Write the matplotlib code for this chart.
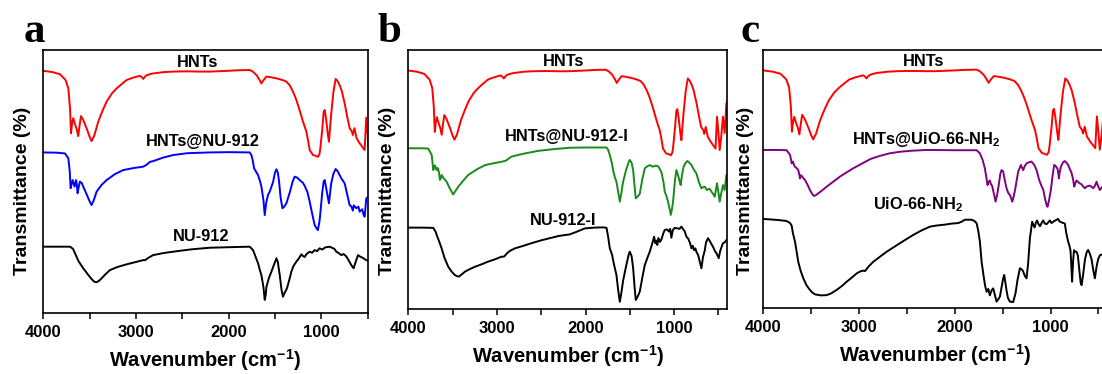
import matplotlib
matplotlib.use("Agg")
import matplotlib.pyplot as plt
from matplotlib.ticker import FixedLocator, NullLocator

plt.rcParams['font.family'] = ['Liberation Sans', 'DejaVu Sans']
plt.rcParams['mathtext.fontset'] = 'custom'
plt.rcParams['mathtext.rm'] = 'Liberation Sans'
plt.rcParams['mathtext.bf'] = 'Liberation Sans:bold'

# ---------------- data (wavenumber cm-1, relative transmittance) ----------------
hnts_wn = [4000, 3900, 3820, 3760, 3730, 3712, 3701, 3690, 3677, 3660, 3640, 3623, 3610, 3594, 3570,
           3530, 3500, 3479, 3450, 3407, 3360, 3317, 3260, 3209, 3150, 3101, 3030, 2958, 2935, 2922,
           2905, 2886, 2850, 2815, 2700, 2599, 2450, 2311, 2204, 2000, 1900, 1773, 1740, 1700, 1665,
           1647, 1625, 1593, 1550, 1480, 1420, 1377, 1340, 1306, 1280, 1252, 1225, 1198, 1162, 1140,
           1126, 1090, 1060, 1037, 1020, 1011, 990, 975, 964, 950, 930, 918, 905, 893, 870, 846, 825,
           803, 780, 749, 720, 695, 670, 660, 643, 620, 587, 560, 533, 516, 500, 486, 470, 449, 430,
           410, 400]
hnts_t = [92.1, 91.6, 90.8, 88.6, 85.4, 78, 68.4, 72, 74.1, 72, 70, 67.3, 71, 74.9, 73.5,
          70, 67, 65.4, 67.5, 72.8, 77, 80.4, 83.5, 85.4, 87.2, 88.6, 89.5, 90.2, 89.6, 89.0,
          89.8, 90.4, 90.8, 91.1, 91.6, 91.8, 91.9, 91.8, 91.8, 92.1, 92.3, 92.4, 91.8, 90.5, 88.5,
          87.3, 88.5, 89.9, 89.7, 89.2, 88.6, 88.0, 86.5, 84.2, 82.0, 79.1, 76.0, 72.8, 69.0, 65.0,
          62.0, 60.1, 59.8, 59.4, 60.5, 62.7, 70, 76.5, 77.2, 74, 68, 65.2, 71, 76, 84, 89.0, 88.2,
          86.7, 84.5, 79.8, 74.5, 70.3, 69, 67.7, 70.3, 66.5, 64.6, 63.3, 62.0, 74.3, 68, 61.4, 66, 74.3, 68,
          79.4, 80]

hnu_wn = [4000, 3850, 3766, 3730, 3715, 3705, 3695, 3683, 3663, 3647, 3638, 3630, 3618, 3605, 3585,
          3569, 3530, 3500, 3479, 3455, 3425, 3370, 3317, 3230, 3138, 3020, 2922, 2890, 2850, 2815,
          2700, 2599, 2450, 2204, 2000, 1773, 1755, 1740, 1726, 1700, 1683, 1660, 1647, 1625, 1611,
          1595, 1575, 1557, 1520, 1500, 1485, 1470, 1456, 1440, 1420, 1400, 1377, 1340, 1310, 1288,
          1260, 1234, 1200, 1180, 1150, 1126, 1100, 1072, 1050, 1037, 1020, 1011, 990, 975, 964, 945,
          930, 918, 905, 893, 870, 846, 825, 803, 780, 749, 720, 695, 675, 660, 650, 623, 600, 587,
          560, 545, 533, 515, 500]
hnu_t = [61.1, 61.0, 60.7, 58.9, 54, 47.5, 49, 50.6, 48.1, 50.6, 49, 45.6, 48, 50.0, 49.5,
         48.1, 45, 42.5, 41.1, 43, 46.2, 48.8, 50.6, 52.8, 54.4, 55.2, 55.7, 56.3, 57.5, 57.8,
         59.2, 60.1, 60.8, 61.1, 61.2, 61.1, 60.1, 58, 55.1, 53.5, 52.5, 50, 48.1, 43, 37.3,
         42, 45, 46.2, 50, 53.5, 54.7, 53.5, 50, 44, 39.9, 40.5, 41.8, 46, 50, 51.9,
         51.5, 50.6, 49.6, 48.4, 46, 42.4, 38, 33.5, 32.2, 31.6, 35, 38, 46, 50, 50.6, 47,
         44, 41.8, 46, 49.5, 53, 54.8, 54, 52.5, 51, 49.4, 45, 41.1, 40.5, 39, 41, 39.9, 40.5, 38.6,
         39.5, 37.5, 36.7, 43.7, 44]

nu_wn = [4000, 3850, 3712, 3680, 3658, 3620, 3569, 3520, 3479, 3450, 3425, 3400, 3371, 3330, 3281,
         3200, 3101, 3000, 2922, 2900, 2870, 2815, 2700, 2599, 2400, 2204, 2000, 1773, 1737, 1710,
         1683, 1660, 1647, 1625, 1611, 1600, 1593, 1565, 1539, 1500, 1485, 1470, 1449, 1430, 1414,
         1400, 1371, 1345, 1324, 1300, 1270, 1240, 1216, 1200, 1180, 1160, 1126, 1100, 1072, 1045,
         1019, 990, 960, 911, 880, 860, 839, 810, 785, 760, 731, 700, 677, 652, 630, 605, 580, 551,
         530, 515, 500]
nu_t = [25.3, 25.3, 25.3, 24.5, 22.8, 19.8, 17.1, 14.8, 13.0, 12.0, 11.8, 12.3, 13.3, 14.8, 16.4,
        17.6, 18.6, 19.5, 20.2, 20.2, 21.0, 22.1, 22.9, 23.4, 24.3, 24.9, 25.1, 25.3, 24.0, 21.5,
        19.0, 16, 14.5, 10, 5.1, 7, 10, 13.5, 15.8, 19.5, 20.9, 19.5, 14.5, 9, 6.3,
        7.5, 9.5, 12.8, 15.8, 18, 19.6, 21, 22.4, 21.8, 21.4, 22.5, 23.4, 23.0, 24.0, 23.6,
        24.7, 24.2, 25.0, 25.3, 24.8, 24.5, 23.4, 22.8, 22.1, 22.5, 21.6, 19.8, 18.3, 17.1, 19.5, 22.1, 21.5, 21.0,
        20.5, 20.2, 20.0]

hnui_wn = [4000, 3850, 3775, 3736, 3725, 3718, 3710, 3699, 3690, 3680, 3670, 3655, 3643, 3633, 3624,
           3600, 3567, 3530, 3493, 3465, 3436, 3380, 3324, 3230, 3135, 3040, 2947, 2900, 2860, 2834,
           2700, 2534, 2350, 2177, 2000, 1763, 1745, 1726, 1700, 1689, 1670, 1651, 1630, 1613, 1595,
           1576, 1540, 1510, 1500, 1480, 1463, 1445, 1433, 1410, 1388, 1360, 1331, 1300, 1275, 1240,
           1210, 1181, 1160, 1143, 1120, 1106, 1085, 1069, 1050, 1038, 1025, 1012, 990, 974, 950, 935,
           926, 910, 893, 870, 850, 830, 805, 780, 749, 720, 692, 675, 655, 630, 600, 579, 560, 542,
           516, 500, 486, 470, 449, 430, 410, 400]
hnui_t = [62.1, 62.1, 62.0, 59.5, 56, 53.7, 55, 55.5, 54.5, 53.7, 54.5, 53, 49.9, 50.5, 51.8,
          50.5, 49.2, 46.5, 44.3, 45.8, 47.3, 49.6, 51.8, 53.9, 55.6, 56.3, 56.9, 57.3, 58.3, 58.9,
          60.0, 61.1, 61.8, 62.3, 62.4, 62.4, 61.5, 59.5, 56, 53.7, 51, 49.2, 45, 41.5, 45,
          49.2, 54, 57, 57.6, 56.5, 53.7, 47, 42.8, 43.5, 44.5, 50, 54.4, 55.2, 55.6, 55,
          55.4, 55.2, 54, 52.8, 49, 45.4, 43.5, 41.5, 38.5, 36.4, 38.5, 41.5, 50, 53.7, 51, 49,
          47.9, 52, 55, 56.5, 57.2, 56.6, 55.7, 54, 52.4, 49, 46.7, 47, 47.3, 46, 46.5, 45.4, 44.5, 43.4,
          48.6, 45, 41.5, 44.5, 47.9, 46, 51.8, 52]

nui_wn = [4000, 3850, 3718, 3690, 3680, 3650, 3624, 3590, 3549, 3510, 3474, 3450, 3428, 3400, 3361,
          3300, 3248, 3170, 3098, 3020, 2947, 2920, 2880, 2850, 2797, 2700, 2609, 2500, 2383, 2300,
          2177, 2100, 2008, 1900, 1800, 1763, 1745, 1726, 1700, 1689, 1670, 1651, 1630, 1613, 1595,
          1576, 1540, 1510, 1500, 1480, 1463, 1445, 1433, 1410, 1388, 1360, 1331, 1300, 1275, 1250,
          1226, 1212, 1200, 1190, 1177, 1160, 1143, 1125, 1106, 1080, 1060, 1045, 1031, 1015, 993,
          960, 940, 918, 900, 880, 861, 840, 820, 805, 790, 775, 760, 749, 730, 715, 692, 675, 655,
          640, 618, 600, 580, 561, 540, 520, 497, 480, 465, 449, 430, 410, 400]
nui_t = [31.5, 31.5, 31.4, 29.8, 28.7, 26, 23.5, 19.7, 16.4, 14.5, 13.2, 12.8, 12.6, 13.4, 14.5,
         15.6, 16.4, 17.4, 18.4, 19.3, 20.3, 20.3, 21.8, 22.6, 23.5, 24.5, 25.5, 26.6, 27.6, 28.3,
         28.9, 29.9, 31.2, 31.5, 31.6, 31.4, 28, 23.5, 21, 19.0, 16, 13.2, 7, 2.9, 6.5,
         11, 17, 21.5, 22.2, 20.5, 16, 8, 3.6, 5.0, 6.8, 12, 17.1, 20, 22.2, 25,
         28.0, 25.5, 26.5, 24.8, 27.5, 26.0, 27.0, 29.0, 30.6, 30.8, 30.0, 31.0, 27.6, 30.5, 31.4,
         31.2, 31.0, 31.9, 31.0, 30.0, 28.0, 27.2, 25.5, 23.5, 24.5, 22.8, 23.5, 22.2, 21, 19, 15.8, 20, 22.6,
         25.8, 27.4, 26.5, 25.2, 24.1, 22.5, 21.5, 19.7, 22.5, 24.0, 25.5, 25.8, 26.7, 27.0]

huio_wn = [4000, 3850, 3756, 3721, 3710, 3704, 3690, 3680, 3669, 3650, 3635, 3625, 3617, 3608, 3600,
           3580, 3565, 3540, 3513, 3490, 3471, 3450, 3426, 3380, 3338, 3270, 3199, 3130, 3061, 2990,
           2921, 2880, 2850, 2782, 2680, 2573, 2450, 2294, 2000, 1772, 1738, 1710, 1686, 1670, 1658,
           1645, 1634, 1622, 1611, 1590, 1574, 1555, 1540, 1525, 1512, 1495, 1480, 1460, 1440, 1425,
           1410, 1400, 1390, 1370, 1338, 1320, 1310, 1298, 1286, 1270, 1251, 1220, 1198, 1170, 1146,
           1125, 1112, 1090, 1077, 1055, 1040, 1031, 1015, 996, 980, 962, 945, 927, 918, 913, 905, 892,
           870, 851, 830, 816, 800, 781, 765, 753, 740, 728, 700, 676, 660, 642, 620, 590, 570, 555,
           535, 520, 500, 485, 460, 430, 400]
huio_t = [61.3, 61.3, 61.2, 59.4, 57.5, 56.1, 56.8, 55.5, 54.8, 54.2, 53.5, 52, 50.3, 51.5, 51.3,
          50.3, 49.7, 48, 45.8, 44.3, 43.5, 43.8, 44.5, 45.8, 47.1, 49, 51.0, 52.6, 54.2, 55.6,
          57.0, 57.8, 58.2, 59.0, 60.0, 60.6, 61.0, 61.3, 61.2, 61.2, 60.0, 57.5, 54.2, 50.5, 47.7,
          49, 49.5, 48, 47.5, 44, 41.3, 44.5, 48, 52, 53.5, 53.0, 50, 46.5, 44.5, 43.9,
          42.5, 41.3, 42.5, 46, 52.9, 54.5, 55.5, 54.5, 53.5, 55, 56.1, 56.6, 56.8, 55.5, 53.5,
          50.5, 49.0, 47, 46.0, 42, 39.8, 39.3, 42, 46.0, 51, 55.5, 55, 54.0, 52, 50.3, 52.5, 54.8,
          56.5, 57.0, 56.2, 55.5, 54, 52.5, 50, 47.1, 48.5, 49.5, 48.5, 48.0, 47.2, 46.5, 47.2, 47.5, 47, 46.5,
          47.5, 49.0, 47, 45.8, 47, 48, 48.5]

uio_wn = [4000, 3850, 3756, 3720, 3704, 3690, 3669, 3650, 3635, 3610, 3582, 3550, 3513, 3485, 3460,
          3400, 3338, 3290, 3234, 3180, 3129, 3075, 3025, 2980, 2950, 2938, 2900, 2852, 2780, 2712,
          2640, 2573, 2500, 2434, 2350, 2260, 2200, 2103, 2030, 1964, 1930, 1894, 1860, 1825, 1795,
          1772, 1755, 1738, 1720, 1703, 1685, 1668, 1650, 1634, 1615, 1599, 1580, 1564, 1545, 1529,
          1510, 1495, 1484, 1472, 1460, 1445, 1425, 1390, 1365, 1345, 1320, 1300, 1286, 1268, 1251,
          1235, 1216, 1192, 1180, 1166, 1155, 1141, 1125, 1110, 1090, 1077, 1060, 1040, 1007, 990,
          970, 950, 921, 905, 880, 851, 835, 816, 805, 792, 785, 775, 765, 755, 745, 729, 715, 700,
          686, 676, 660, 640, 622, 607, 590, 572, 555, 537, 520, 503, 485, 468, 440, 400]
uio_t = [34.6, 34.2, 33.8, 33.0, 32.0, 29, 25.8, 21.5, 18.0, 14.5, 11.6, 9.0, 7.1, 6.0, 5.4,
         5.0, 5.1, 5.8, 7.1, 8.6, 10.3, 11.9, 13.5, 14.4, 14.6, 14.4, 16.2, 18.0, 20.0, 21.9,
         23.6, 25.2, 26.9, 28.4, 30.1, 31.6, 32.0, 32.4, 32.8, 33.0, 33.5, 34.3, 34.3, 34.3, 33.8,
         32.9, 30, 25.8, 18, 13.5, 9, 6.4, 7.5, 5.0, 7.0, 7.7, 5.0, 2.6, 3.5, 4.5,
         8.5, 11.5, 12.9, 10, 7, 4, 2.6, 2.4, 6, 11, 15.5, 15.0, 14.3, 12.5, 11.6,
         17, 27, 33.5, 32.3, 31.3, 33.0, 34.0, 32.5, 31.8, 33.3, 34.0, 32.8, 32.6, 34.0, 33.0,
         33.6, 34.0, 34.6, 33.6, 33.2, 32.8, 29, 25.8, 24.5, 22.5, 18, 10.3, 18, 22.5, 21.9, 21.9, 20.5, 15,
         10, 9.0, 13, 19, 21.8, 22.6, 21.2, 19, 15, 11.6, 16, 19.0, 20.5, 20.8, 20.5, 20.0]

panel_letters = ['a', 'b', 'c']
xlims = [(4000, 500), (4000, 400), (4000, 400)]
tick_major = [4000, 3000, 2000, 1000]
tick_minor = [3500, 2500, 1500, 500]

panels = [
    [(hnts_wn, hnts_t, '#ff0000', 'HNTs'),
     (hnu_wn, hnu_t, '#0000ff', 'HNTs@NU-912'),
     (nu_wn, nu_t, '#000000', 'NU-912')],
    [(hnts_wn, hnts_t, '#ff0000', 'HNTs'),
     (hnui_wn, hnui_t, '#1a8a1a', 'HNTs@NU-912-I'),
     (nui_wn, nui_t, '#000000', 'NU-912-I')],
    [(hnts_wn, hnts_t, '#ff0000', 'HNTs'),
     (huio_wn, huio_t, '#800080', r'HNTs@UiO-66-NH$_\mathbf{2}$'),
     (uio_wn, uio_t, '#000000', r'UiO-66-NH$_\mathbf{2}$')],
]
label_pos = [
    [(2333, 95.4), (2279, 65.2), (2293, 29.1)],
    [(2252, 95.4), (2214, 66.6), (2252, 34.4)],
    [(2330, 95.4), (2294, 65.4), (2382, 40.0)],
]

W, H = 1102, 374
fig = plt.figure(figsize=(W / 100, H / 100), dpi=100)
# axes boxes in pixels: left, top, right, bottom
boxes = [(43.3, 50, 367.7, 313.3), (408.3, 50, 727.3, 309.3), (763.3, 50, 1108, 308.3)]
letter_x = [24, 377, 740]
ylabel_x = [23, 387, 746]
ylabel_y = 191

for i, (box, series) in enumerate(zip(boxes, panels)):
    l, t, r, b = box
    ax = fig.add_axes([l / W, 1 - b / H, (r - l) / W, (b - t) / H])
    for wn, tr, col, name in series:
        ax.plot(wn, tr, color=col, lw=1.4)
    for (x, y), (_, _, _, name) in zip(label_pos[i], series):
        ax.text(x, y, name, ha='center', va='center', fontsize=11.8, fontweight='bold')
    ax.set_xlim(*xlims[i])
    ax.set_ylim(0, 100)
    ax.xaxis.set_major_locator(FixedLocator(tick_major))
    ax.xaxis.set_minor_locator(FixedLocator(tick_minor))
    ax.yaxis.set_major_locator(NullLocator())
    ax.tick_params(axis='x', which='both', direction='out', length=4, width=1.1, pad=4.5)
    ax.tick_params(axis='x', which='major', labelsize=12)
    for lab in ax.get_xticklabels():
        lab.set_fontweight('bold')
    for s in ax.spines.values():
        s.set_linewidth(1.2)
    ax.set_xlabel(r'Wavenumber (cm$^{\mathbf{-1}}$)', fontsize=14.5, fontweight='bold', labelpad=5)
    fig.text(ylabel_x[i] / W, 1 - ylabel_y / H, 'Transmittance (%)', rotation=90,
             ha='center', va='center', fontsize=14, fontweight='bold')
    fig.text(letter_x[i] / W, 1 - 42 / H, panel_letters[i], ha='left', va='baseline',
             fontsize=31, fontweight='bold', family='Liberation Serif')

fig.savefig('out.png', dpi=100)
